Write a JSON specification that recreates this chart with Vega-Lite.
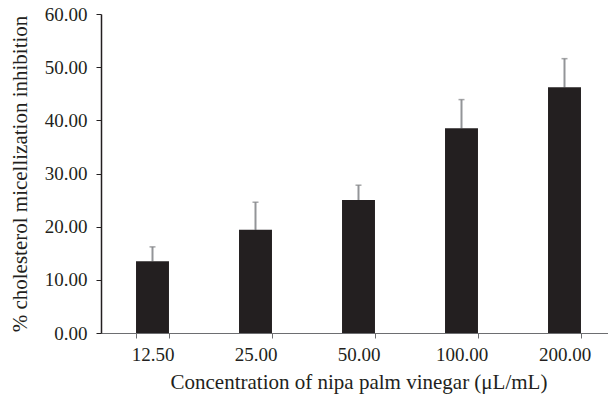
{
  "$schema": "https://vega.github.io/schema/vega-lite/v6.json",
  "autosize": "none",
  "padding": {"left": 101, "top": 14, "right": 0, "bottom": 65},
  "width": 507,
  "height": 319,
  "background": "white",
  "config": {
    "view": {"stroke": null},
    "font": "Liberation Serif",
    "axis": {"labelFont": "Liberation Serif", "titleFont": "Liberation Serif", "labelColor": "#231f20", "titleColor": "#231f20", "titleFontWeight": "normal", "grid": false}
  },
  "data": {
    "values": [
      {"conc": "12.50", "mean": 13.5, "upper": 16.2},
      {"conc": "25.00", "mean": 19.4, "upper": 24.6},
      {"conc": "50.00", "mean": 25.0, "upper": 27.8},
      {"conc": "100.00", "mean": 38.5, "upper": 43.9},
      {"conc": "200.00", "mean": 46.2, "upper": 51.6}
    ]
  },
  "encoding": {
    "x": {
      "field": "conc",
      "type": "ordinal",
      "sort": null,
      "scale": {"range": [0, 515], "paddingInner": 0.68, "paddingOuter": 0.34},
      "axis": {
        "title": "Concentration of nipa palm vinegar (μL/mL)",
        "labelAngle": 0,
        "labelFontSize": 19,
        "titleFontSize": 21,
        "tickBand": "extent",
        "tickSize": 5,
        "tickColor": "#6d6e71",
        "domainColor": "#6d6e71",
        "domainWidth": 1.2,
        "labelPadding": 7,
        "titlePadding": 7
      }
    }
  },
  "layer": [
    {
      "mark": {"type": "rule", "color": "#939598", "strokeWidth": 2},
      "encoding": {
        "y": {"field": "mean", "type": "quantitative"},
        "y2": {"field": "upper"}
      }
    },
    {
      "mark": {"type": "bar", "color": "#231f20"},
      "encoding": {
        "y": {
          "field": "mean",
          "type": "quantitative",
          "scale": {"domain": [0, 60]},
          "axis": {
            "title": "% cholesterol micellization inhibition",
            "values": [0, 10, 20, 30, 40, 50, 60],
            "format": ".2f",
            "labelFontSize": 19,
            "titleFontSize": 21,
            "tickSize": 5,
            "tickColor": "#231f20",
            "domainColor": "#231f20",
            "domainWidth": 1.5,
            "labelPadding": 9,
            "titlePadding": 14
          }
        }
      }
    },
    {
      "mark": {"type": "tick", "color": "#808285", "thickness": 1.5, "size": 6, "orient": "horizontal"},
      "encoding": {
        "y": {"field": "upper", "type": "quantitative"}
      }
    }
  ]
}
